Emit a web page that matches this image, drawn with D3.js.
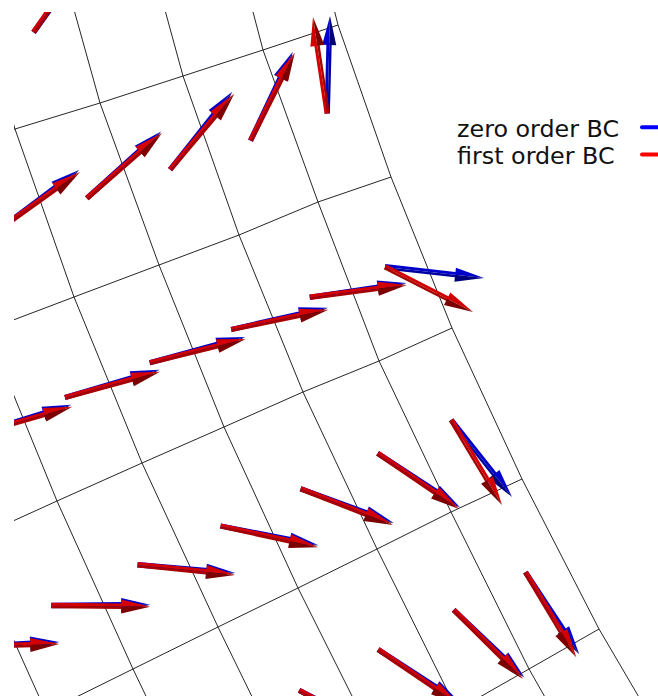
<!DOCTYPE html>
<html>
<head>
<meta charset="utf-8">
<script src="https://cdn.jsdelivr.net/npm/d3@7/dist/d3.min.js"></script>
<style>
  html, body { margin: 0; padding: 0; background: #ffffff; }
  svg { display: block; }
</style>
</head>
<body>
<svg id="chart" width="658" height="698"></svg>
<script>
// Mesh node coordinates (model units). Rows follow the curved cross lines,
// columns follow the fan of long lines running towards the lower right.
const NODE_X = [
  [-2.90, -2.05, -1.20, -0.34, 0.54, 1.39, 2.22, 3.00],
  [-2.55, -1.65, -0.76,  0.15, 1.00, 1.83, 2.63, 3.38],
  [-1.88, -1.00, -0.13,  0.74, 1.59, 2.39, 3.18, 3.91],
  [-1.19, -0.31,  0.57,  1.42, 2.24, 3.03, 3.79, 4.52],
  [-0.39,  0.46,  1.33,  2.18, 2.98, 3.77, 4.51, 5.22],
  [ 0.40,  1.28,  2.15,  3.00, 3.80, 4.57, 5.29, 5.99],
  [ 1.20,  2.10,  2.95,  3.80, 4.60, 5.38, 6.12, 6.84]
];
const NODE_Y = [
  [ 6.70,  6.93,  7.16,  7.38,  7.60,  7.83,  8.04,  8.25],
  [ 4.76,  5.08,  5.38,  5.69,  5.95,  6.22,  6.48,  6.73],
  [ 3.01,  3.35,  3.68,  4.01,  4.33,  4.63,  4.96,  5.21],
  [ 1.17,  1.57,  1.97,  2.35,  2.71,  3.06,  3.37,  3.70],
  [-0.56, -0.14,  0.29,  0.71,  1.10,  1.49,  1.86,  2.19],
  [-2.32, -1.87, -1.42, -0.97, -0.54, -0.12,  0.29,  0.69],
  [-4.02, -3.52, -3.07, -2.57, -2.02, -1.60, -1.17, -0.76]
];

// Cell-centred velocity, zero order boundary condition (null = no glyph)
const ZERO_U = [
  [null, null, null,  0.57, null, null, null],
  [null, null, 0.79,  0.74, 0.62, 0.42, 0.025],
  [null, 0.93, 0.945, 0.955, 0.966, 0.967, 0.99],
  [0.949, 0.99, 0.977, 0.979, 0.932, 0.827, 0.61],
  [null, null, null,  0.86, 0.82, 0.71, 0.54],
  [null, null, null,  null, null, null, null]
];
const ZERO_V = [
  [null, null, null,  0.79, null, null, null],
  [null, null, 0.59,  0.67, 0.78, 0.89, 0.975],
  [null, 0.29, 0.28,  0.26, 0.22, 0.145, -0.11],
  [0.05, 0.01, -0.08, -0.19, -0.34, -0.54, -0.77],
  [null, null, null, -0.44, -0.53, -0.675, -0.82],
  [null, null, null,  null, null, null, null]
];

// Cell-centred velocity, first order boundary condition
const FIRST_U = [
  [null, null, null,  0.55, null, null, null],
  [null, null, 0.80,  0.75, 0.64, 0.44, -0.145],
  [null, 0.94, 0.95,  0.96, 0.97, 0.97, 0.88],
  [0.95, 0.99, 0.975, 0.975, 0.925, 0.815, 0.51],
  [null, null, null,  0.85, 0.81, 0.695, 0.51],
  [null, null, null,  null, null, null, null]
];
const FIRST_V = [
  [null, null, null,  0.80, null, null, null],
  [null, null, 0.57,  0.655, 0.76, 0.88, 0.965],
  [null, 0.27, 0.26,  0.24, 0.20, 0.125, -0.45],
  [0.03, -0.01, -0.10, -0.21, -0.36, -0.555, -0.85],
  [null, null, null, -0.46, -0.55, -0.69, -0.85],
  [null, null, null,  null, null, null, null]
];

const SERIES_NAMES = ["zero order BC", "first order BC"];

const W = 658, H = 698;
const svg = d3.select("#chart");

const x = d3.scaleLinear().domain([0, 6.58]).range([0, W]);
const y = d3.scaleLinear().domain([0, 6.98]).range([H, 0]);
// glyph length per unit of velocity magnitude
const glyph = d3.scaleLinear().domain([0, 1]).range([0, 100]);

svg.append("defs").append("clipPath").attr("id", "view")
  .append("rect").attr("x", 14).attr("y", 12).attr("width", W - 14).attr("height", 684);

const plot = svg.append("g").attr("clip-path", "url(#view)");

// ---- mesh lines
const line = d3.line().x(d => x(d[0])).y(d => y(d[1]));
const nRows = NODE_X.length, nCols = NODE_X[0].length;
const meshPaths = [];
for (let r = 0; r < nRows; r++) meshPaths.push(d3.range(nCols).map(c => [NODE_X[r][c], NODE_Y[r][c]]));
for (let c = 0; c < nCols; c++) meshPaths.push(d3.range(nRows).map(r => [NODE_X[r][c], NODE_Y[r][c]]));

plot.append("g").selectAll("path").data(meshPaths).join("path")
  .attr("d", line)
  .attr("fill", "none")
  .attr("stroke", "#1a1a1a")
  .attr("stroke-width", 0.95);

// ---- arrow glyphs at cell centres
function cellGlyphs(U, V) {
  const out = [];
  for (let r = 0; r < U.length; r++) {
    for (let c = 0; c < U[r].length; c++) {
      if (U[r][c] == null) continue;
      const cx = (NODE_X[r][c] + NODE_X[r][c + 1] + NODE_X[r + 1][c] + NODE_X[r + 1][c + 1]) / 4;
      const cy = (NODE_Y[r][c] + NODE_Y[r][c + 1] + NODE_Y[r + 1][c] + NODE_Y[r + 1][c + 1]) / 4;
      const x0 = x(cx), y0 = y(cy);
      out.push({ x0, y0, x1: x0 + glyph(U[r][c]), y1: y0 - glyph(V[r][c]) });
    }
  }
  return out;
}

const HEAD_LEN = 29, HEAD_HALF = 7, SHAFT_L = 2.9, SHAFT_R = 2.4;

function pts(a) { return a.map(p => p[0].toFixed(2) + "," + p[1].toFixed(2)).join(" "); }

function drawSeries(data, colors) {
  const g = plot.append("g");
  data.forEach(d => {
    const dx = d.x1 - d.x0, dy = d.y1 - d.y0;
    const L = Math.hypot(dx, dy);
    const ux = dx / L, uy = dy / L;
    const nx = uy, ny = -ux;               // left-hand side of the glyph
    const hl = Math.min(HEAD_LEN, L * 0.45);
    const bx = d.x1 - ux * hl, by = d.y1 - uy * hl;
    const sx = bx + ux * 2, sy = by + uy * 2;
    const T = [d.x0, d.y0], S = [sx, sy], B = [bx, by], P = [d.x1, d.y1];
    g.append("polygon").attr("fill", colors.lit)
      .attr("points", pts([T, [T[0] + nx * SHAFT_L, T[1] + ny * SHAFT_L], [S[0] + nx * SHAFT_L, S[1] + ny * SHAFT_L], S]));
    g.append("polygon").attr("fill", colors.mid)
      .attr("points", pts([T, S, [S[0] - nx * SHAFT_R, S[1] - ny * SHAFT_R], [T[0] - nx * SHAFT_R, T[1] - ny * SHAFT_R]]));
    g.append("polygon").attr("fill", colors.lit)
      .attr("points", pts([P, [B[0] + nx * HEAD_HALF, B[1] + ny * HEAD_HALF], B]));
    g.append("polygon").attr("fill", colors.shade)
      .attr("points", pts([P, B, [B[0] - nx * HEAD_HALF, B[1] - ny * HEAD_HALF]]));
  });
}

drawSeries(cellGlyphs(ZERO_U, ZERO_V), { lit: "#0000cc", mid: "#0000a0", shade: "#00007a" });
drawSeries(cellGlyphs(FIRST_U, FIRST_V), { lit: "#d20000", mid: "#a80000", shade: "#7c0000" });

// ---- legend
const legend = svg.append("g");
const legendColors = ["#0000ff", "#ff0000"];
SERIES_NAMES.forEach((name, i) => {
  const base = 136.7 + i * 27.3;
  legend.append("text")
    .attr("x", 457).attr("y", base)
    .attr("font-family", "DejaVu Sans, sans-serif")
    .attr("font-size", 23.8)
    .attr("fill", "#111")
    .text(name);
  legend.append("line")
    .attr("x1", 642).attr("x2", 670)
    .attr("y1", base - 9.5).attr("y2", base - 9.5)
    .attr("stroke", legendColors[i])
    .attr("stroke-width", 4)
    .attr("stroke-linecap", "round");
});
</script>
</body>
</html>
